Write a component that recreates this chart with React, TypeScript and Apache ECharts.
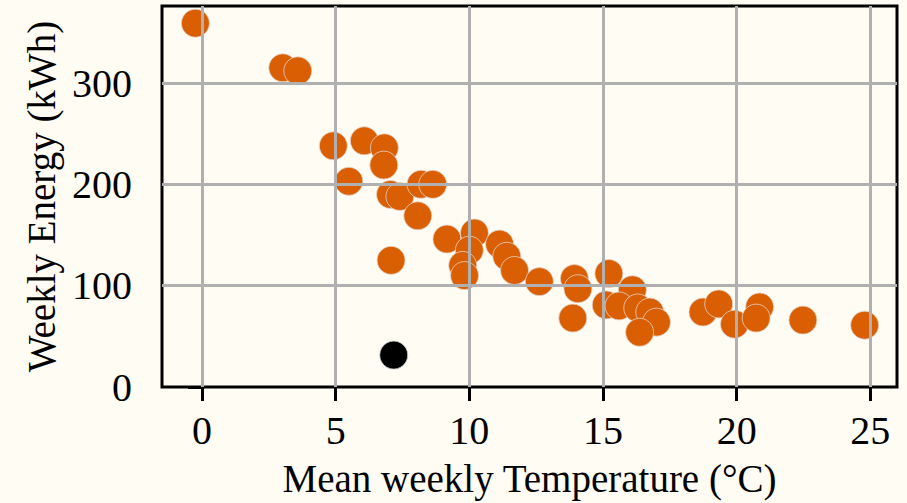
import React, { useEffect, useRef } from "react";
import * as echarts from "echarts";

const temperature = [
  -0.25, 3.02, 3.58, 4.91, 6.07, 6.82, 6.8, 5.49, 7.05, 7.4, 8.19, 8.63, 8.07, 7.07,
  9.16, 10.19, 10.0, 9.75, 9.82, 11.13, 11.4, 11.69, 12.62, 13.93, 14.06, 13.87,
  15.22, 16.1, 15.12, 15.6, 16.3, 16.75, 17.0, 16.37, 18.74, 19.33, 19.92, 20.86,
  20.73, 22.48, 24.79,
];
const energy = [
  359, 315, 312, 238, 243, 236, 219, 203, 190, 188, 200, 200, 169, 125,
  146, 152, 135, 120, 110, 141, 129, 115, 104, 107, 97, 68,
  112, 96, 81, 80, 78, 74, 64, 54, 74, 82, 62, 79,
  68, 66, 61,
];
const outlierTemperature = [7.17];
const outlierEnergy = [31.5];
const xTicks = [0, 5, 10, 15, 20, 25];
const yTicks = [0, 100, 200, 300];

const FONT = "'Liberation Serif', 'Times New Roman', serif";

export default function App() {
  const ref = useRef<HTMLDivElement>(null);
  useEffect(() => {
    if (!ref.current) return;
    const chart = echarts.init(ref.current, undefined, { renderer: "svg" });
    const main = temperature.map((t, i) => [t, energy[i]]);
    const outlier = outlierTemperature.map((t, i) => [t, outlierEnergy[i]]);
    const gridLines = [
      ...xTicks.map((v) => ({ xAxis: v })),
      ...yTicks.filter((v) => v > 0).map((v) => ({ yAxis: v })),
    ];
    chart.setOption({
      animation: false,
      backgroundColor: "#fffcf3",
      grid: {
        left: 162,
        top: 6,
        right: 10,
        bottom: 115,
        show: true,
        borderColor: "#000",
        borderWidth: 3,
        backgroundColor: "transparent",
      },
      xAxis: {
        type: "value",
        min: -1.5,
        max: 26,
        name: "Mean weekly Temperature (°C)",
        nameLocation: "middle",
        nameGap: 72,
        nameTextStyle: { fontFamily: FONT, fontSize: 39, color: "#000" },
        axisLine: { show: false },
        axisTick: {
          show: true,
          inside: false,
          length: 14,
          customValues: xTicks,
          lineStyle: { color: "#000", width: 3 },
        },
        axisLabel: {
          customValues: xTicks,
          margin: 23,
          fontFamily: FONT,
          fontSize: 40,
          color: "#000",
        },
        splitLine: { show: false },
      },
      yAxis: {
        type: "value",
        min: 0,
        max: 376,
        name: "Weekly Energy (kWh)",
        nameLocation: "middle",
        nameRotate: 90,
        nameGap: 100,
        nameTextStyle: { fontFamily: FONT, fontSize: 39, color: "#000" },
        axisLine: { show: false },
        axisTick: {
          show: true,
          inside: false,
          length: 14,
          customValues: yTicks,
          lineStyle: { color: "#000", width: 3 },
        },
        axisLabel: {
          customValues: yTicks,
          margin: 30,
          fontFamily: FONT,
          fontSize: 40,
          color: "#000",
        },
        splitLine: { show: false },
      },
      series: [
        {
          type: "scatter",
          z: 2,
          data: main,
          symbolSize: 28,
          itemStyle: {
            color: "#d95f02",
            borderColor: "rgba(230,210,200,0.8)",
            borderWidth: 1,
            opacity: 1,
          },
        },
        {
          type: "scatter",
          z: 2,
          data: outlier,
          symbolSize: 28,
          itemStyle: {
            color: "#000",
            borderColor: "rgba(200,200,200,0.8)",
            borderWidth: 1,
            opacity: 1,
          },
        },
        {
          type: "scatter",
          z: 5,
          data: [],
          silent: true,
          markLine: {
            silent: true,
            symbol: ["none", "none"],
            label: { show: false },
            emphasis: { disabled: true },
            lineStyle: { color: "#b0b0b0", width: 3, type: "solid" },
            data: gridLines,
          },
        },
      ],
    });
    return () => chart.dispose();
  }, []);
  return (
    <div
      ref={ref}
      style={{ position: "absolute", left: 0, top: 0, width: 907, height: 503 }}
    />
  );
}
